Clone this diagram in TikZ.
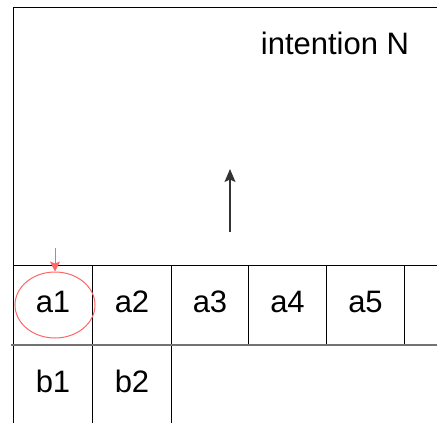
\documentclass[tikz,border=0pt]{standalone}
\usepackage{fontspec}
\setmainfont{Liberation Sans}
\usetikzlibrary{shapes.geometric,arrows.meta}
\definecolor{softred}{HTML}{FF6666}
\begin{document}
\begin{tikzpicture}[x=1pt,y=-1pt,
  cell/.style={draw=black,line width=1pt,minimum width=79pt,minimum height=80pt,inner sep=0pt,anchor=north west,text depth=8pt,font=\fontsize{31}{36}\selectfont},
  txt/.style={font=\fontsize{31}{36}\selectfont,inner sep=0pt}]
\useasboundingbox (0,0) rectangle (437,423);
\clip (0,0) rectangle (437,423);
% big top box
\node[draw=black,line width=1pt,minimum width=480pt,minimum height=258pt,inner sep=0pt,anchor=north west] (top) at (13,7) {};
\node[txt] (title) at (335,43) {intention N};
% row a
\node[cell,minimum width=79pt] (a1) at (13,265) {a1};
\node[cell,minimum width=79pt] (a2) at (92,265) {a2};
\node[cell,minimum width=77pt] (a3) at (171,265) {a3};
\node[cell,minimum width=78pt] (a4) at (248,265) {a4};
\node[cell,minimum width=78pt] (a5) at (326,265) {a5};
\node[cell,minimum width=78pt] (a6) at (404,265) {};
% row b
\node[cell,minimum width=79pt] (b1) at (13,345) {b1};
\node[cell,minimum width=79pt] (b2) at (92,345) {b2};
\draw[line width=1pt] (171,345) -- (171,430);
\draw[draw=black!55,line width=1.6pt] (11,345) -- (437,345);
% red ellipse and arrow
\node[ellipse,draw=softred,line width=1pt,minimum width=80pt,minimum height=66pt] (circ) at (55,305) {};
\coordinate (rs) at (55,248);
\draw[softred,line width=1pt,-{Stealth[length=10pt,width=10pt,inset=2pt]}] (rs) -- (circ.north);
% black arrow
\coordinate (bs) at (230,232);
\coordinate (be) at (230,169);
\draw[black!80,line width=1.2pt,-{Stealth[length=13pt,width=11pt,inset=2.5pt]}] (bs) -- (be);
\end{tikzpicture}
\end{document}
